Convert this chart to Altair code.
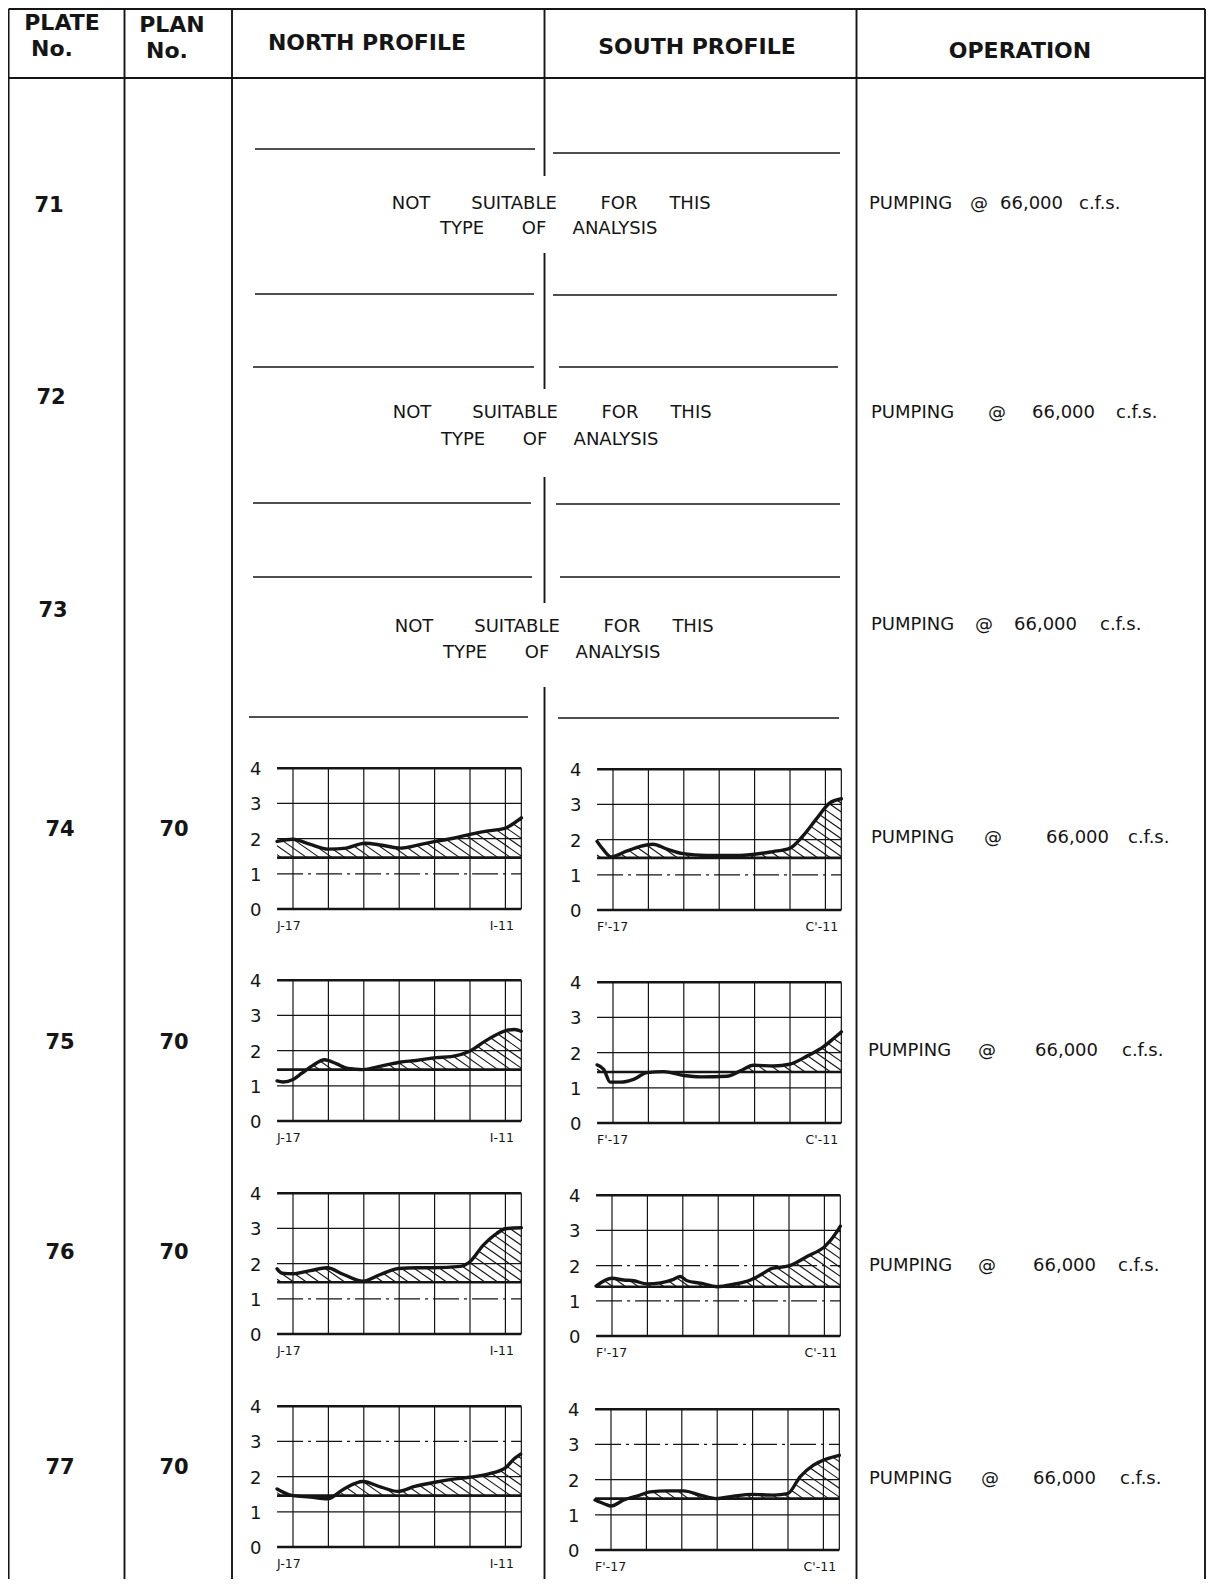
import altair as alt
import numpy as np
import pandas as pd

# ---------------------------------------------------------------- text data
HEADER_TEXT = ["PLATE", "No.", "PLAN", "No.", "NORTH PROFILE", "SOUTH PROFILE", "OPERATION"]
PLATE_NO = ["71", "72", "73", "74", "75", "76", "77"]
PLAN_NO = ["", "", "", "70", "70", "70", "70"]
OPERATION_WORDS = ["PUMPING", "@", "66,000", "c.f.s."]
NOT_SUITABLE_1 = ["NOT", "SUITABLE", "FOR", "THIS"]
NOT_SUITABLE_2 = ["TYPE", "OF", "ANALYSIS"]

Y_TICKS = [0, 1, 2, 3, 4]
STATION_LINES = [0, 1, 2, 3, 4, 5, 6]
NORTH_ENDS = ["J-17", "I-11"]
SOUTH_ENDS = ["F'-17", "C'-11"]

# ---------------------------------------------------------------- profile data
# station position (0 = first end station, 6 = last end station) and value
N74_S = [-0.45, 0.0, 0.47, 1.0, 1.5, 2.03, 2.52, 3.04, 3.55, 4.02, 4.53, 5.0, 5.51, 5.98, 6.26, 6.45]
N74_V = [1.92, 1.98, 1.84, 1.70, 1.73, 1.87, 1.81, 1.73, 1.82, 1.92, 2.01, 2.12, 2.22, 2.29, 2.45, 2.59]
N74_BASE = 1.46

S74_S = [-0.45, -0.28, -0.05, 0.38, 0.75, 1.13, 1.5, 1.98, 2.63, 3.57, 4.52, 4.99, 5.36, 5.74, 6.11, 6.45]
S74_V = [1.95, 1.72, 1.51, 1.67, 1.80, 1.87, 1.74, 1.60, 1.55, 1.55, 1.66, 1.75, 2.10, 2.58, 3.03, 3.16]
S74_BASE = 1.48

N75_S = [-0.45, -0.28, 0.0, 0.24, 0.56, 0.89, 1.22, 1.55, 1.98, 2.45, 3.01, 3.48, 4.05, 4.47, 4.99, 5.46, 6.02, 6.26, 6.45]
N75_V = [1.14, 1.11, 1.18, 1.35, 1.58, 1.74, 1.63, 1.49, 1.46, 1.55, 1.67, 1.72, 1.80, 1.83, 1.98, 2.29, 2.57, 2.60, 2.55]
N75_BASE = 1.46

S75_S = [-0.45, -0.26, -0.08, 0.21, 0.58, 0.96, 1.43, 2.0, 2.47, 3.22, 3.6, 3.97, 4.54, 4.99, 5.48, 5.95, 6.23, 6.45]
S75_V = [1.65, 1.52, 1.16, 1.16, 1.24, 1.43, 1.46, 1.35, 1.31, 1.33, 1.48, 1.64, 1.62, 1.67, 1.90, 2.17, 2.40, 2.59]
S75_BASE = 1.45

N76_S = [-0.45, -0.31, 0.0, 0.49, 0.96, 1.43, 1.98, 2.47, 2.98, 3.5, 3.97, 4.73, 4.96, 5.39, 5.76, 6.0, 6.45]
N76_V = [1.85, 1.73, 1.71, 1.80, 1.88, 1.69, 1.50, 1.69, 1.86, 1.88, 1.88, 1.92, 2.02, 2.54, 2.86, 2.99, 3.02]
N76_BASE = 1.47

S76_S = [-0.45, 0.0, 0.33, 0.61, 0.99, 1.37, 1.74, 1.93, 2.12, 2.5, 2.97, 3.44, 3.91, 4.19, 4.52, 4.99, 5.51, 6.03, 6.36, 6.45]
S76_V = [1.42, 1.64, 1.59, 1.57, 1.48, 1.51, 1.61, 1.69, 1.57, 1.50, 1.40, 1.47, 1.59, 1.73, 1.92, 1.99, 2.26, 2.56, 2.97, 3.12]
S76_BASE = 1.40

N77_S = [-0.45, -0.36, 0.0, 0.49, 0.97, 1.44, 1.97, 2.49, 2.96, 3.44, 4.01, 4.48, 4.98, 5.53, 6.0, 6.24, 6.43]
N77_V = [1.65, 1.60, 1.46, 1.42, 1.37, 1.65, 1.86, 1.70, 1.58, 1.72, 1.84, 1.92, 1.98, 2.08, 2.25, 2.50, 2.64]
N77_BASE = 1.46

S77_S = [-0.45, -0.16, 0.0, 0.36, 0.73, 1.11, 1.58, 2.05, 2.52, 2.97, 3.46, 3.98, 4.59, 4.99, 5.34, 5.72, 6.1, 6.45]
S77_V = [1.42, 1.30, 1.25, 1.42, 1.53, 1.65, 1.68, 1.68, 1.56, 1.46, 1.53, 1.58, 1.56, 1.60, 2.08, 2.41, 2.59, 2.69]
S77_BASE = 1.46

PROFILES = {
    ("74", "N"): (N74_S, N74_V, N74_BASE), ("74", "S"): (S74_S, S74_V, S74_BASE),
    ("75", "N"): (N75_S, N75_V, N75_BASE), ("75", "S"): (S75_S, S75_V, S75_BASE),
    ("76", "N"): (N76_S, N76_V, N76_BASE), ("76", "S"): (S76_S, S76_V, S76_BASE),
    ("77", "N"): (N77_S, N77_V, N77_BASE), ("77", "S"): (S77_S, S77_V, S77_BASE),
}
# grid lines that are drawn dash-dot in the original
DASHED_GRID = {("74", "N"): [1], ("74", "S"): [1], ("76", "N"): [1],
               ("76", "S"): [1, 2], ("77", "N"): [3], ("77", "S"): [3]}

# ---------------------------------------------------------------- layout (page pixels)
PAGE_X = [8, 1206]
PAGE_Y = [8, 1579]
COL_X = [8.6, 124.5, 232, 544.5, 856.5, 1205]
TOP_Y, HEAD_Y = 9, 78
MID_SEGMENTS = [(78, 176), (253, 389), (477, 603), (687, 1579)]
EMPTY_ROW_LINES = [  # (y, x_start, x_end)
    (149, 255, 535), (153, 553, 840), (294, 255, 534), (295, 553, 837),
    (367, 253, 534), (367, 559, 838), (503, 253, 531), (504, 556, 840),
    (577, 253, 532), (577, 560, 840), (717, 249, 528), (718, 558, 839),
]
HEADER_POS = [(62, 23), (52, 49), (172, 25), (167, 51), (367, 43), (697, 47), (1020, 51)]
ROW_Y = [206, 398, 611, 830, 1043, 1253, 1468]
PLATE_X = [49, 51, 53, 60, 60, 60, 60]
PLAN_X = 174
NS_CENTER = [(552, 204, 229), (553, 413, 440), (555, 627, 653)]
NS_OFF_1 = [-141, -38, 67, 138]
NS_OFF_2 = [-90, -18, 63]
OPER_Y = [204, 413, 625, 838, 1051, 1266, 1479]
OPER_X = [[869, 970, 1000, 1079], [871, 988, 1032, 1116], [871, 975, 1014, 1100],
          [871, 984, 1046, 1128], [868, 978, 1035, 1122], [869, 978, 1033, 1118],
          [869, 981, 1033, 1120]]
MINI_ORIGIN = {("74", "N"): (293, 909), ("74", "S"): (613, 910),
               ("75", "N"): (293, 1121), ("75", "S"): (613, 1123),
               ("76", "N"): (293, 1334), ("76", "S"): (612, 1336),
               ("77", "N"): (293, 1547), ("77", "S"): (611, 1550)}
DX, DY = 35.4, 35.2
S_LO, S_HI = -0.45, 6.45
THICK, THIN = 2.6, 1.2
INK = "#151515"


def to_page(key, s, v):
    x0, y0 = MINI_ORIGIN[key]
    return x0 + s * DX, y0 - v * DY


def hatch(st, vals, base, spacing=0.36, slope=0.7):
    st = np.asarray(st, float)
    vals = np.asarray(vals, float)
    xs = np.linspace(S_LO, S_HI, 3000)
    ps = np.interp(xs, st, vals)
    out = []
    top = vals.max() - base
    for x0 in np.arange(S_LO + 0.12, S_HI + top / slope, spacing):
        if x0 <= S_HI:
            if np.interp(x0, st, vals) <= base + 0.03:
                continue
            xe, ye = x0, base
        else:
            ye = base + slope * (x0 - S_HI)
            if ye >= np.interp(S_HI, st, vals) - 0.03:
                continue
            xe = S_HI
        m = xs < xe
        cand = xs[m][::-1]
        prof = ps[m][::-1]
        line = base + slope * (x0 - cand)
        hit = np.nonzero(line >= prof)[0]
        xu = cand[hit[0]] if len(hit) else S_LO
        yu = base + slope * (x0 - xu)
        if xe - xu > 0.04:
            out.append((xu, yu, xe, ye))
    return out


# ---------------------------------------------------------------- build tables
rules = []
dashed = []
rules.append(dict(x=COL_X[0], y=TOP_Y, x2=COL_X[-1], y2=TOP_Y, sw=2.2))
rules.append(dict(x=COL_X[0], y=HEAD_Y, x2=COL_X[-1], y2=HEAD_Y, sw=2.2))
for i, cx in enumerate(COL_X):
    if i == 3:
        rules.append(dict(x=cx, y=TOP_Y, x2=cx, y2=HEAD_Y, sw=1.9))
        for a, b in MID_SEGMENTS:
            rules.append(dict(x=cx, y=a, x2=cx, y2=b, sw=1.9))
    else:
        rules.append(dict(x=cx, y=TOP_Y, x2=cx, y2=PAGE_Y[1], sw=1.9))
for y, xa, xb in EMPTY_ROW_LINES:
    rules.append(dict(x=xa, y=y, x2=xb, y2=y, sw=1.5))

hatches = []
lines = []
texts_bold = []
texts_center = []
texts_left = []

for key, (st, vals, base) in PROFILES.items():
    kid = key[0] + key[1]
    for v in Y_TICKS:
        xa, ya = to_page(key, S_LO, v)
        xb, yb = to_page(key, S_HI, v)
        seg = dict(x=xa, y=ya, x2=xb, y2=yb, sw=THICK if v in (0, 4) else THIN)
        if v in DASHED_GRID.get(key, []):
            dashed.append(seg)
        else:
            rules.append(seg)
        tx, ty = to_page(key, -1.05, v)
        texts_center.append(dict(x=tx, y=ty + 2, t=str(v), fs=18))
    for s in STATION_LINES + [S_HI]:
        xa, ya = to_page(key, s, 0)
        xb, yb = to_page(key, s, 4)
        rules.append(dict(x=xa, y=ya, x2=xb, y2=yb, sw=THIN))
    xa, ya = to_page(key, S_LO, base)
    xb, yb = to_page(key, S_HI, base)
    rules.append(dict(x=xa, y=ya, x2=xb, y2=yb, sw=THICK))
    for (s1, v1, s2, v2) in hatch(st, vals, base):
        p1 = to_page(key, s1, v1)
        p2 = to_page(key, s2, v2)
        hatches.append(dict(x=p1[0], y=p1[1], x2=p2[0], y2=p2[1]))
    for i, (s, v) in enumerate(zip(st, vals)):
        px, py = to_page(key, s, v)
        lines.append(dict(x=px, y=py, k=kid, i=i))
    ends = NORTH_ENDS if key[1] == "N" else SOUTH_ENDS
    lx, ly = to_page(key, -0.45, -0.48)
    texts_left.append(dict(x=lx, y=ly, t=ends[0], fs=12.5))
    rx, ry = to_page(key, 5.9, -0.48)
    texts_center.append(dict(x=rx, y=ry, t=ends[1], fs=12.5))

for t, (x, y) in zip(HEADER_TEXT, HEADER_POS):
    texts_bold.append(dict(x=x, y=y, t=t, fs=22))
for i, p in enumerate(PLATE_NO):
    texts_bold.append(dict(x=PLATE_X[i], y=ROW_Y[i], t=p, fs=21))
    if PLAN_NO[i]:
        texts_bold.append(dict(x=PLAN_X, y=ROW_Y[i], t=PLAN_NO[i], fs=21))
for (cx, y1, y2) in NS_CENTER:
    for w, o in zip(NOT_SUITABLE_1, NS_OFF_1):
        texts_center.append(dict(x=cx + o, y=y1, t=w, fs=18))
    for w, o in zip(NOT_SUITABLE_2, NS_OFF_2):
        texts_center.append(dict(x=cx + o, y=y2, t=w, fs=18))
for r in range(len(PLATE_NO)):
    for w, x in zip(OPERATION_WORDS, OPER_X[r]):
        texts_left.append(dict(x=x, y=OPER_Y[r], t=w, fs=18))

# ---------------------------------------------------------------- chart
X = alt.X("x:Q", scale=alt.Scale(domain=PAGE_X, nice=False, zero=False), axis=None)
Y = alt.Y("y:Q", scale=alt.Scale(domain=PAGE_Y, nice=False, zero=False, reverse=True), axis=None)

rule_layer = alt.Chart(pd.DataFrame(rules)).mark_rule(color=INK, strokeCap="butt").encode(
    x=X, y=Y, x2="x2:Q", y2="y2:Q", strokeWidth=alt.StrokeWidth("sw:Q", scale=None))
dash_layer = alt.Chart(pd.DataFrame(dashed)).mark_rule(
    color=INK, strokeWidth=THIN, strokeDash=[26, 5, 3, 5]).encode(
    x=X, y=Y, x2="x2:Q", y2="y2:Q")
hatch_layer = alt.Chart(pd.DataFrame(hatches)).mark_rule(color=INK, strokeWidth=1.15).encode(
    x=X, y=Y, x2="x2:Q", y2="y2:Q")
line_layer = alt.Chart(pd.DataFrame(lines)).mark_line(
    color=INK, strokeWidth=3.4, interpolate="monotone", strokeJoin="round", strokeCap="round").encode(
    x=X, y=Y, detail="k:N", order="i:Q")
FONT = "DejaVu Sans"
bold_layer = alt.Chart(pd.DataFrame(texts_bold)).mark_text(
    font=FONT, fontWeight="bold", align="center", baseline="middle", color=INK).encode(
    x=X, y=Y, text="t:N", size=alt.Size("fs:Q", scale=None))
center_layer = alt.Chart(pd.DataFrame(texts_center)).mark_text(
    font=FONT, align="center", baseline="middle", color=INK).encode(
    x=X, y=Y, text="t:N", size=alt.Size("fs:Q", scale=None))
left_layer = alt.Chart(pd.DataFrame(texts_left)).mark_text(
    font=FONT, align="left", baseline="middle", color=INK).encode(
    x=X, y=Y, text="t:N", size=alt.Size("fs:Q", scale=None))

chart = alt.layer(rule_layer, dash_layer, hatch_layer, line_layer,
                  bold_layer, center_layer, left_layer).properties(
    width=PAGE_X[1] - PAGE_X[0], height=PAGE_Y[1] - PAGE_Y[0],
    padding=0, autosize=alt.AutoSizeParams(type="none"), background="white",
).configure_view(stroke=None)

chart.save("out.html", embed_options={"renderer": "svg", "actions": False})
